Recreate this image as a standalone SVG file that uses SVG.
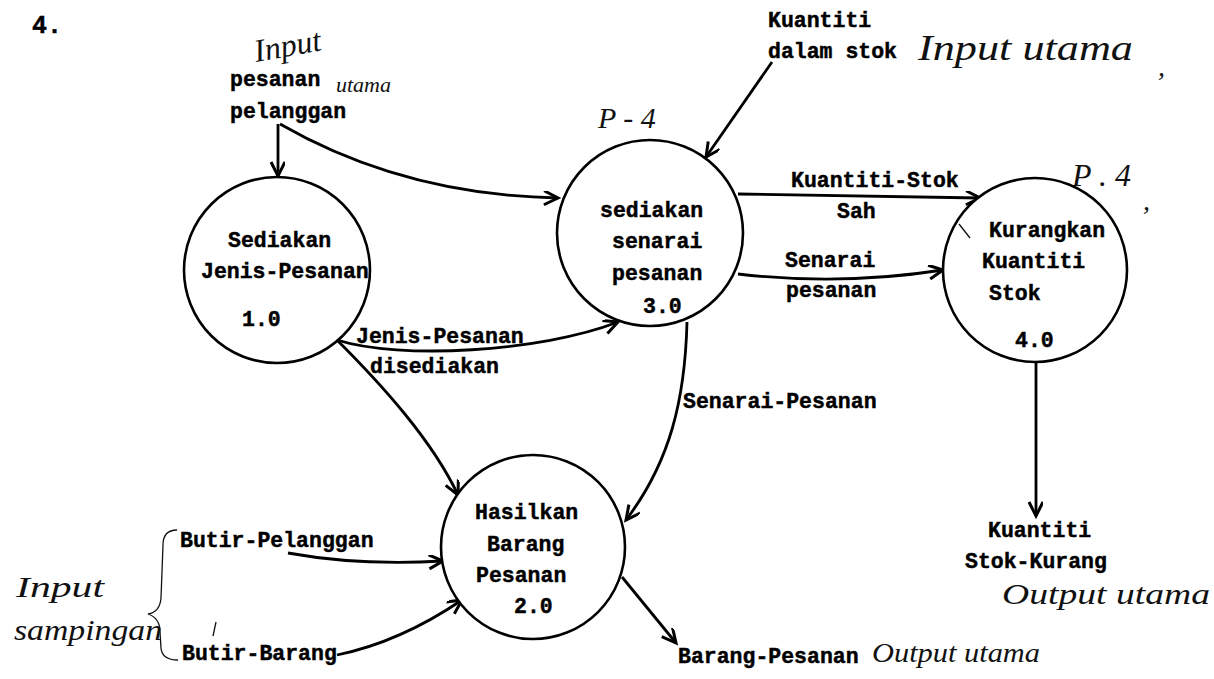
<svg xmlns="http://www.w3.org/2000/svg" width="1214" height="679" viewBox="0 0 1214 679">
<defs>
<style>
.t{font-family:"Liberation Mono","DejaVu Sans Mono",monospace;font-weight:bold;font-size:21.5px;fill:#000;stroke:#000;stroke-width:0.45}
.p{fill:#fff;stroke:#000;stroke-width:2.6}
.c{fill:none;stroke:#000;stroke-width:2.8;marker-end:url(#ah)}
.h{font-family:"Liberation Serif","DejaVu Serif",serif;font-style:italic;fill:#111}
.hs{fill:none;stroke:#111;stroke-width:1.3}
</style>
<marker id="ah" markerUnits="userSpaceOnUse" markerWidth="20" markerHeight="20" refX="15" refY="7" orient="auto">
<path d="M1,0 L15,7 L1,14" fill="none" stroke="#000" stroke-width="3"/>
</marker>
</defs>
<rect width="1214" height="679" fill="#fff"/>

<text class="t" x="32" y="33" style="font-size:25px">4.</text>

<g id="connectors">
<path class="c" d="M278,124 L278,176"/>
<path class="c" d="M280,124 C360,170 450,196 558,198"/>
<path class="c" d="M772,62 L706,157"/>
<path class="c" d="M738,194 L980,198"/>
<path class="c" d="M738,274 Q840,286 943,270"/>
<path class="c" d="M337,340 C400,360 540,352 618,322"/>
<path class="c" d="M337,340 C382,385 432,440 458,495"/>
<path class="c" d="M687,322 C685,400 670,462 626,520"/>
<path class="c" d="M288,553 Q360,566 443,561"/>
<path class="c" d="M337,655 Q400,642 462,600"/>
<path class="c" d="M622,577 L676,643"/>
<path class="c" d="M1036,363 L1036,516"/>
</g>

<g id="p1">
<circle class="p" cx="277" cy="270" r="93"/>
<text class="t" x="228" y="247">Sediakan</text>
<text class="t" x="201" y="278">Jenis-Pesanan</text>
<text class="t" x="242" y="326">1.0</text>
</g>

<g id="p3">
<circle class="p" cx="650" cy="233" r="93"/>
<text class="t" x="600" y="217">sediakan</text>
<text class="t" x="612" y="248">senarai</text>
<text class="t" x="612" y="280">pesanan</text>
<text class="t" x="643" y="313">3.0</text>
</g>

<g id="p4">
<circle class="p" cx="1035" cy="270" r="92"/>
<text class="t" x="989" y="237">Kurangkan</text>
<text class="t" x="982" y="268">Kuantiti</text>
<text class="t" x="989" y="300">Stok</text>
<text class="t" x="1015" y="347">4.0</text>
</g>

<g id="p2">
<circle class="p" cx="533" cy="547" r="92"/>
<text class="t" x="475" y="519">Hasilkan</text>
<text class="t" x="487" y="551">Barang</text>
<text class="t" x="476" y="582">Pesanan</text>
<text class="t" x="514" y="613">2.0</text>
</g>

<g id="labels">
<text class="t" x="230" y="86">pesanan</text>
<text class="t" x="230" y="118">pelanggan</text>
<text class="t" x="768" y="27">Kuantiti</text>
<text class="t" x="768" y="58">dalam stok</text>
<text class="t" x="791" y="187">Kuantiti-Stok</text>
<text class="t" x="837" y="218">Sah</text>
<text class="t" x="785" y="267">Senarai</text>
<text class="t" x="786" y="297">pesanan</text>
<text class="t" x="356" y="343">Jenis-Pesanan</text>
<text class="t" x="370" y="373">disediakan</text>
<text class="t" x="683" y="408">Senarai-Pesanan</text>
<text class="t" x="180" y="547">Butir-Pelanggan</text>
<text class="t" x="182" y="660">Butir-Barang</text>
<text class="t" x="678" y="663">Barang-Pesanan</text>
<text class="t" x="988" y="537">Kuantiti</text>
<text class="t" x="965" y="568">Stok-Kurang</text>
</g>

<g id="handwriting">
<text class="h" x="256" y="62" style="font-size:32px" transform="rotate(-10 256 62)">Input</text>
<text class="h" x="336" y="92" style="font-size:22px">utama</text>
<text class="h" x="598" y="128" style="font-size:30px">P - 4</text>
<text class="h" x="918" y="60" style="font-size:36px" textLength="215" lengthAdjust="spacingAndGlyphs">Input utama</text>
<text class="h" x="1158" y="76" style="font-size:28px">,</text>
<text class="h" x="1072" y="186" style="font-size:32px">P . 4</text>
<text class="h" x="1143" y="210" style="font-size:28px">,</text>
<path class="hs" d="M959,224 L970,238"/>
<text class="h" x="16" y="597" style="font-size:30px" textLength="88" lengthAdjust="spacingAndGlyphs">Input</text>
<text class="h" x="14" y="640" style="font-size:30px" textLength="148" lengthAdjust="spacingAndGlyphs">sampingan</text>
<path class="hs" d="M177,530 Q163,530 163,545 L161,598 Q160,612 148,614 Q160,618 160,632 L161,648 Q162,660 178,660"/>
<path class="hs" d="M216,622 L213,636"/>
<text class="h" x="1002" y="604" style="font-size:30px" textLength="208" lengthAdjust="spacingAndGlyphs">Output utama</text>
<text class="h" x="872" y="662" style="font-size:28px" textLength="168" lengthAdjust="spacingAndGlyphs">Output utama</text>
</g>
</svg>
